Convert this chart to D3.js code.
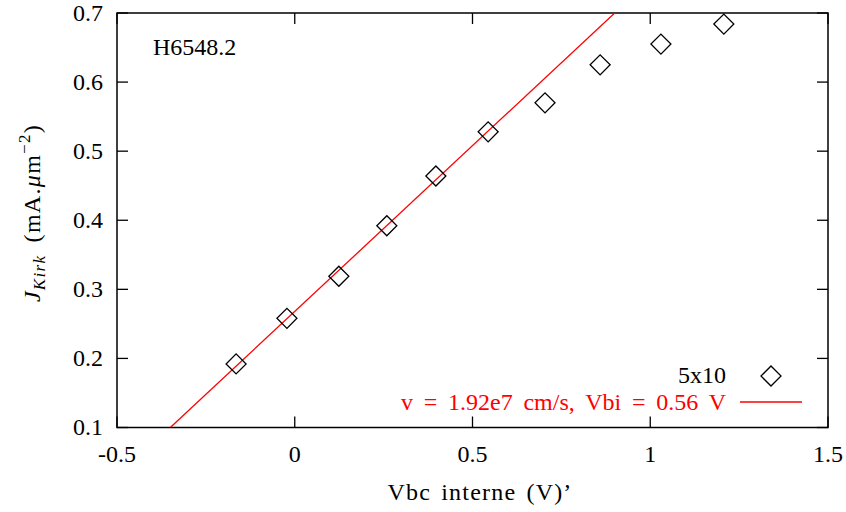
<!DOCTYPE html>
<html><head><meta charset="utf-8">
<script src="https://cdn.jsdelivr.net/npm/d3@7"></script>
<style>body{margin:0;background:#fff}svg{display:block}</style>
</head><body>
<svg id="c" width="846" height="512" font-family="Liberation Serif, DejaVu Serif, serif"></svg>
<script>
const vbc = [-0.165, -0.022, 0.124, 0.259, 0.397, 0.544, 0.704, 0.859, 1.030, 1.207];
const jkirk = [0.192, 0.258, 0.319, 0.392, 0.464, 0.528, 0.570, 0.625, 0.655, 0.684];
const fitX = [-0.35, 0.90];
const fitY = [0.10, 0.70];
const xTicks = [-0.5, 0, 0.5, 1, 1.5];
const yTicks = [0.1, 0.2, 0.3, 0.4, 0.5, 0.6, 0.7];
const seriesLabel = "5x10";
const fitLabel = "v = 1.92e7 cm/s, Vbi = 0.56 V";
const sampleLabel = "H6548.2";

const L = 117, R = 828, T = 13, B = 427.5;
const svg = d3.select("#c");
const x = d3.scaleLinear().domain([-0.5, 1.5]).range([L, R]);
const y = d3.scaleLinear().domain([0.1, 0.7]).range([B, T]);
const fs = 24;

svg.append("clipPath").attr("id","cp").append("rect")
  .attr("x", L).attr("y", T).attr("width", R-L).attr("height", B-T);

// ticks (inward, mirrored)
const tl = 11;
const g = svg.append("g").attr("stroke","#000").attr("stroke-width",1.3);
xTicks.forEach(v => {
  g.append("line").attr("x1",x(v)).attr("x2",x(v)).attr("y1",B).attr("y2",B-tl);
  g.append("line").attr("x1",x(v)).attr("x2",x(v)).attr("y1",T).attr("y2",T+tl);
});
yTicks.forEach(v => {
  g.append("line").attr("x1",L).attr("x2",L+tl).attr("y1",y(v)).attr("y2",y(v));
  g.append("line").attr("x1",R).attr("x2",R-tl).attr("y1",y(v)).attr("y2",y(v));
});
svg.append("rect").attr("x",L).attr("y",T).attr("width",R-L).attr("height",B-T)
  .attr("fill","none").attr("stroke","#000").attr("stroke-width",1.5);

// tick labels
svg.append("g").selectAll("text").data(xTicks).join("text")
  .attr("x", d => x(d)).attr("y", 462).attr("text-anchor","middle")
  .attr("font-size", fs).text(d => String(d));
svg.append("g").selectAll("text").data(yTicks).join("text")
  .attr("x", 103).attr("y", d => y(d)+7.5).attr("text-anchor","end")
  .attr("font-size", fs).text(d => d.toFixed(1));

// axis titles
svg.append("text").attr("x", 480).attr("y", 500).attr("text-anchor","middle")
  .attr("font-size", fs).attr("letter-spacing", 1.2).attr("word-spacing", 3)
  .text("Vbc interne (V)’");
const yl = svg.append("text").attr("transform","translate(40,213) rotate(-90)")
  .attr("text-anchor","middle").attr("font-size", fs).attr("letter-spacing", 1.3).attr("word-spacing", 5);
yl.append("tspan").attr("font-style","italic").text("J");
yl.append("tspan").attr("font-style","italic").attr("font-size",17).attr("dy",5).text("Kirk");
yl.append("tspan").attr("dy",-5).text(" (mA.");
yl.append("tspan").attr("font-style","italic").text("μ");
yl.append("tspan").text("m");
yl.append("tspan").attr("font-size",17).attr("dy",-10).text("−2");
yl.append("tspan").attr("dy",10).text(")");

svg.append("text").attr("x",153).attr("y",55).attr("font-size",fs).text(sampleLabel);

// fit line
const line = d3.line().x(d => x(d[0])).y(d => y(d[1]));
svg.append("path").datum(fitX.map((v,i)=>[v, fitY[i]])).attr("d", line)
  .attr("fill","none").attr("stroke","#ff0000").attr("stroke-width",1.3)
  .attr("clip-path","url(#cp)");

// diamonds
const sym = d3.symbol().type(d3.symbolSquare).size(200);
svg.append("g").selectAll("path").data(vbc).join("path")
  .attr("transform", (d,i) => `translate(${x(d)},${y(jkirk[i])}) rotate(45)`)
  .attr("d", sym).attr("fill","none").attr("stroke","#000").attr("stroke-width",1.3);

// legend
svg.append("text").attr("x",726).attr("y",383).attr("text-anchor","end").attr("font-size",fs).text(seriesLabel);
svg.append("path").attr("transform","translate(771,376) rotate(45)").attr("d", sym)
  .attr("fill","none").attr("stroke","#000").attr("stroke-width",1.3);
svg.append("text").attr("x",726).attr("y",410).attr("text-anchor","end").attr("font-size",fs)
  .attr("word-spacing", 4.8).attr("fill","#ff0000").text(fitLabel);
svg.append("line").attr("x1",740).attr("x2",802).attr("y1",402).attr("y2",402)
  .attr("stroke","#ff0000").attr("stroke-width",1.3);
</script>
</body></html>
